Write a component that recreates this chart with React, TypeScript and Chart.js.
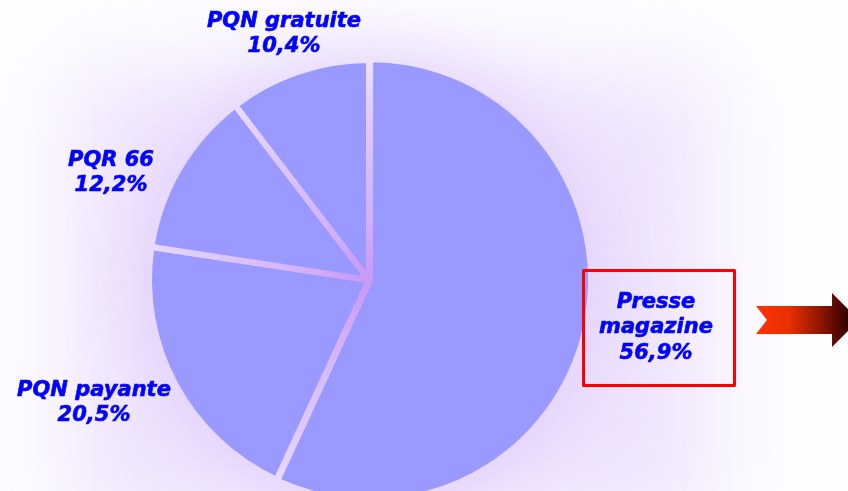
import React, { useEffect, useRef } from "react";
import { Chart, registerables } from "chart.js";

Chart.register(...registerables);

// ---- data ----
const CATEGORIES = ["Presse magazine", "PQN payante", "PQR 66", "PQN gratuite"];
const SHARES = [56.9, 20.5, 12.2, 10.4];
const LABEL_LINES = [["Presse", "magazine"], ["PQN payante"], ["PQR 66"], ["PQN gratuite"]];

// ---- style / layout (not data) ----
const W = 848;
const H = 491;
const SLICE_COLOR = "#9999ff";
const TEXT_COLOR = "#0000ff";
const FONT = 'italic bold 21px "DejaVu Sans", Verdana, sans-serif';
const LINE_H = 25.5;
// label block centres relative to the pie centre
const LABEL_OFFSETS = [
  [287, 48],
  [-275, 123],
  [-258, -107],
  [-85, -246],
];

const fmt = (v: number) => v.toFixed(1).replace(".", ",") + "%";

function makeBackground(): HTMLCanvasElement {
  const c = document.createElement("canvas");
  c.width = W;
  c.height = H;
  const g = c.getContext("2d")!;
  g.fillStyle = "#fefdff";
  g.fillRect(0, 0, W, H);
  g.filter = "blur(45px)";
  g.fillStyle = "#efe4fd";
  g.fillRect(70, 70, 640, 460);
  g.filter = "blur(40px)";
  g.fillStyle = "#e0ccfb";
  g.beginPath();
  g.ellipse(372, 285, 225, 220, 0, 0, Math.PI * 2);
  g.fill();
  g.filter = "blur(45px)";
  g.fillStyle = "#d2adf9";
  g.beginPath();
  g.ellipse(369, 280, 120, 120, 0, 0, Math.PI * 2);
  g.fill();
  g.filter = "blur(20px)";
  g.fillStyle = "#c796f7";
  g.beginPath();
  g.ellipse(369, 280, 35, 35, 0, 0, Math.PI * 2);
  g.fill();
  g.filter = "none";
  return c;
}

export default function App() {
  const ref = useRef<HTMLCanvasElement | null>(null);

  useEffect(() => {
    document.body.style.margin = "0";
    const canvas = ref.current!;
    const bg = makeBackground();
    const ctx0 = canvas.getContext("2d")!;
    const pattern = ctx0.createPattern(bg, "no-repeat")!;

    const decor = {
      id: "decor",
      beforeDraw(chart: any) {
        const c = chart.ctx;
        c.save();
        c.drawImage(bg, 0, 0);
        c.restore();
      },
      afterDraw(chart: any) {
        const c = chart.ctx;
        const meta = chart.getDatasetMeta(0);
        const cx = meta.data[0].x;
        const cy = meta.data[0].y;
        c.save();
        c.font = FONT;
        c.fillStyle = TEXT_COLOR;
        c.strokeStyle = TEXT_COLOR;
        c.lineWidth = 0.6;
        c.lineJoin = "round";
        c.textAlign = "center";
        c.textBaseline = "middle";
        CATEGORIES.forEach((_, i) => {
          const lines = [...LABEL_LINES[i], fmt(SHARES[i])];
          const [ox, oy] = LABEL_OFFSETS[i];
          const x = cx + ox;
          const y0 = cy + oy - ((lines.length - 1) * LINE_H) / 2;
          lines.forEach((t, k) => {
            c.fillText(t, x, y0 + k * LINE_H);
            c.strokeText(t, x, y0 + k * LINE_H);
          });
        });
        // highlight box around the main label
        c.strokeStyle = "#ff0000";
        c.lineWidth = 3;
        c.strokeRect(583.5, 270.5, 151, 115);
        // arrow
        const grad = c.createLinearGradient(756, 0, 850, 0);
        grad.addColorStop(0, "#ff3300");
        grad.addColorStop(0.35, "#e83000");
        grad.addColorStop(0.7, "#8a1400");
        grad.addColorStop(1, "#2a0000");
        c.fillStyle = grad;
        c.beginPath();
        c.moveTo(756, 306);
        c.lineTo(832, 306);
        c.lineTo(832, 293);
        c.lineTo(859, 320);
        c.lineTo(832, 347);
        c.lineTo(832, 334);
        c.lineTo(756, 334);
        c.lineTo(767, 320);
        c.closePath();
        c.fill();
        c.restore();
      },
    };

    const chart = new Chart(canvas, {
      type: "pie",
      data: {
        labels: CATEGORIES,
        datasets: [
          {
            data: SHARES,
            backgroundColor: SLICE_COLOR,
            borderColor: pattern as any,
            borderWidth: 6,
            borderJoinStyle: "round",
            radius: 220,
            offset: [4, 0, 0, 0],
          } as any,
        ],
      },
      options: {
        animation: false,
        responsive: false,
        events: [],
        layout: { padding: { left: 0, right: 110, top: 69, bottom: 0 } },
        plugins: {
          legend: { display: false },
          tooltip: { enabled: false },
        },
      },
      plugins: [decor],
    });
    return () => chart.destroy();
  }, []);

  return (
    <div style={{ width: W, height: H }}>
      <canvas ref={ref} width={W} height={H} style={{ display: "block", width: W, height: H }} />
    </div>
  );
}
